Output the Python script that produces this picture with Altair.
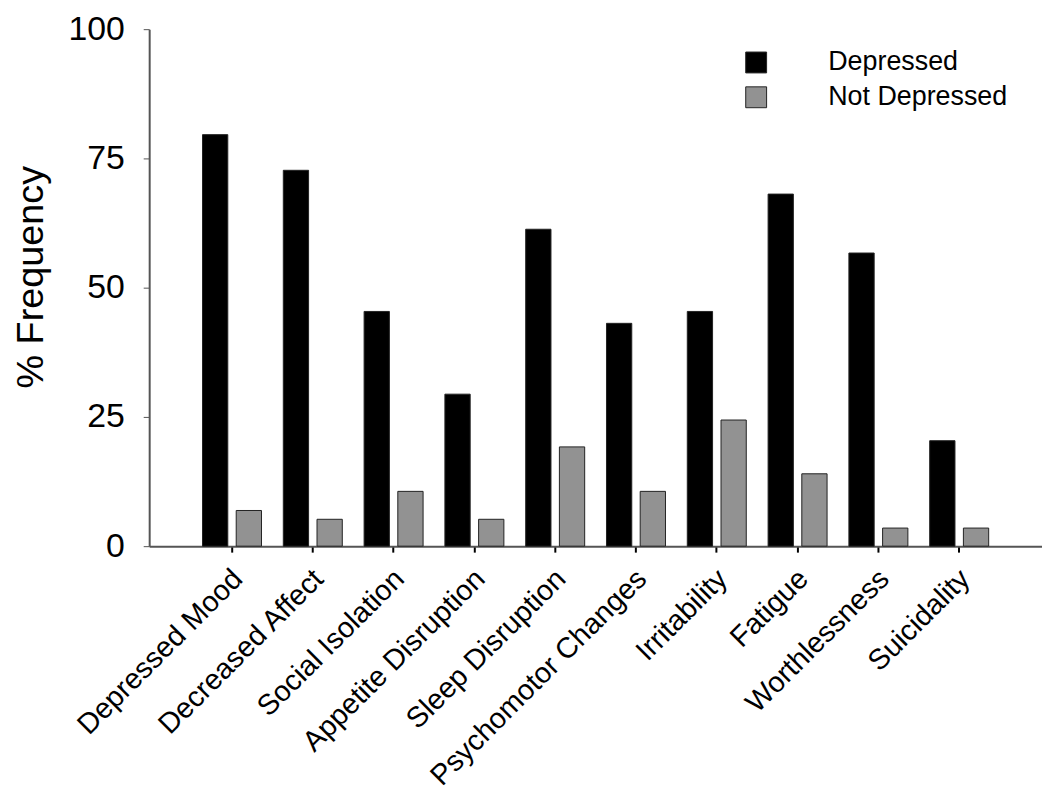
import altair as alt
import pandas as pd

categories = ["Depressed Mood", "Decreased Affect", "Social Isolation", "Appetite Disruption",
              "Sleep Disruption", "Psychomotor Changes", "Irritability", "Fatigue",
              "Worthlessness", "Suicidality"]
depressed = [79.6, 72.7, 45.4, 29.4, 61.3, 43.1, 45.4, 68.1, 56.7, 20.4]
not_depressed = [6.9, 5.2, 10.6, 5.2, 19.2, 10.6, 24.4, 14.0, 3.5, 3.5]
groups = ["Depressed", "Not Depressed"]
colors = ["#000000", "#929292"]
y_ticks = [0, 25, 50, 75, 100]

rows = []
for c, d, n in zip(categories, depressed, not_depressed):
    rows.append({"symptom": c, "group": groups[0], "value": d})
    rows.append({"symptom": c, "group": groups[1], "value": n})
df = pd.DataFrame(rows)

FONT = "Liberation Sans"

chart = alt.Chart(df).mark_bar(stroke="#222222", strokeWidth=1).encode(
    x=alt.X("symptom:N", sort=categories,
            scale=alt.Scale(paddingInner=0.27, paddingOuter=0.66),
            axis=alt.Axis(title=None, labelAngle=-45, labelAlign="right", labelBaseline="top",
                          labelFont=FONT, labelFontSize=29, labelColor="#000000",
                          labelPadding=12, labelOffset=-4, tickSize=6, tickColor="#000000", tickWidth=2,
                          domainColor="#555555", domainWidth=2, grid=False, labelLimit=400)),
    xOffset=alt.XOffset("group:N", sort=groups, scale=alt.Scale(paddingInner=0.25)),
    y=alt.Y("value:Q", scale=alt.Scale(domain=[0, 100], nice=False),
            axis=alt.Axis(title="% Frequency", values=y_ticks, titleFont=FONT, titleFontSize=38,
                          titleFontWeight="normal", titleColor="#000000", titlePadding=18,
                          titleY=249,
                          labelFont=FONT, labelFontSize=34, labelColor="#000000",
                          labelPadding=19, tickSize=6, tickColor="#555555",
                          domainColor="#555555", domainWidth=2, grid=False)),
    color=alt.Color("group:N", sort=groups, scale=alt.Scale(domain=groups, range=colors),
                    legend=alt.Legend(title=None, orient="none", legendX=597, legendY=20,
                                      symbolType="square", symbolSize=441, symbolStrokeWidth=1,
                                      symbolStrokeColor="#222222", symbolOpacity=1,
                                      labelFont=FONT, labelFontSize=27, labelColor="#000000",
                                      labelOffset=59, rowPadding=7, padding=0, labelLimit=400)),
).properties(
    width=898, height=520,
    autosize=alt.AutoSizeParams(type="none"),
    padding={"left": 142, "top": 19, "right": 0, "bottom": 250},
).configure_view(stroke=None)

chart.save("out.html", embed_options={"renderer": "svg", "actions": False})
